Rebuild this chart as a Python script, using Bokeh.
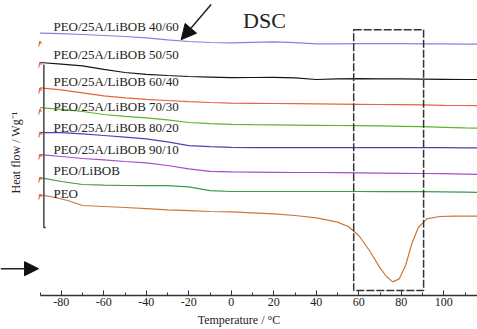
import numpy as np
from bokeh.plotting import figure
from bokeh.models import Range1d, FixedTicker, Arrow, NormalHead
from bokeh.core.properties import value
from bokeh.embed import file_html
from bokeh.resources import INLINE

# ---------------- data ----------------
temp = [-90, -80, -70, -60, -50, -40, -30, -20, -10, 0, 10, 20, 30, 40,
        50, 60, 70, 80, 90, 100, 110, 116]

hf_40_60 = [13.12, 13.09, 13.05, 13.00, 12.95, 12.88, 12.78, 12.70, 12.65, 12.63, 12.66,
            12.68, 12.64, 12.58, 12.58, 12.59, 12.59, 12.59, 12.58, 12.58, 12.57, 12.57]
hf_50_50 = [11.65, 11.57, 11.48, 11.31, 11.15, 11.06, 11.00, 10.95, 10.92, 10.89, 10.90,
            10.91, 10.88, 10.80, 10.83, 10.84, 10.83, 10.83, 10.82, 10.81, 10.80, 10.80]
hf_60_40 = [10.38, 10.28, 10.13, 9.98, 9.88, 9.81, 9.75, 9.69, 9.65, 9.62, 9.61,
            9.60, 9.59, 9.58, 9.57, 9.56, 9.55, 9.54, 9.53, 9.51, 9.50, 9.49]
hf_70_30 = [9.39, 9.31, 9.20, 9.05, 8.96, 8.88, 8.78, 8.65, 8.59, 8.56, 8.54,
            8.53, 8.52, 8.51, 8.50, 8.49, 8.48, 8.46, 8.44, 8.41, 8.38, 8.37]
hf_80_20 = [8.14, 8.14, 8.08, 8.00, 7.92, 7.83, 7.68, 7.49, 7.44, 7.41, 7.39,
            7.39, 7.39, 7.39, 7.39, 7.39, 7.39, 7.39, 7.39, 7.39, 7.38, 7.38]
hf_90_10 = [7.04, 6.95, 6.85, 6.78, 6.70, 6.63, 6.50, 6.33, 6.21, 6.18, 6.17,
            6.16, 6.15, 6.15, 6.14, 6.13, 6.12, 6.11, 6.10, 6.09, 6.07, 6.05]
hf_peo_libob = [5.89, 5.70, 5.55, 5.52, 5.50, 5.49, 5.49, 5.43, 5.24, 5.20, 5.20,
                5.20, 5.20, 5.20, 5.20, 5.20, 5.19, 5.19, 5.19, 5.18, 5.17, 5.16]

temp_peo = [-90, -85, -77, -70, -60, -50, -40, -30, -20, -10, 0, 10, 20, 30, 40, 50,
            55, 60, 65, 70, 73, 76, 79, 82, 85, 88, 92, 98, 105, 116]
hf_peo = [5.03, 4.95, 4.75, 4.50, 4.45, 4.40, 4.34, 4.28, 4.24, 4.20, 4.18, 4.13, 4.08,
          4.00, 3.88, 3.67, 3.45, 3.00, 2.25, 1.38, 0.95, 0.68, 0.83, 1.50, 2.60, 3.40,
          3.83, 3.95, 3.97, 3.97]

series_names = ["PEO/25A/LiBOB 40/60", "PEO/25A/LiBOB 50/50", "PEO/25A/LiBOB 60/40",
                "PEO/25A/LiBOB 70/30", "PEO/25A/LiBOB 80/20", "PEO/25A/LiBOB 90/10",
                "PEO/LiBOB", "PEO"]
series_colors = ["#8383dc", "#151515", "#e8643c", "#5cb52e", "#5a3cb4", "#a64ccc",
                 "#3a9a50", "#c8783c"]
label_hf = [13.45, 12.05, 10.70, 9.45, 8.39, 7.29, 6.25, 5.09]
label_temp = -83.7

hook_hf = [12.60, 11.55, 10.25, 9.20, 8.05, 6.95, 5.80, 4.95]

tick_values = [-80, -60, -40, -20, 0, 20, 40, 60, 80, 100]
tick_labels = ["-80", "-60", "-40", "-20", "0", "20", "40", "60", "80", "100"]
minor_values = [-90, -70, -50, -30, -10, 10, 30, 50, 70, 90, 110]

# melting region box (dashed)
box_left, box_right, box_bottom, box_top = 57.6, 90.5, 0.25, 13.29

FONT = "Liberation Serif"
TXT = "#222222"

p = figure(width=477, height=329, output_backend="svg", toolbar_location=None,
           x_range=Range1d(-108.6, 115.86), y_range=Range1d(0, 14.75),
           y_axis_location=None, min_border_left=0, min_border_right=0,
           min_border_top=0, min_border_bottom=34)
p.outline_line_color = None
p.grid.visible = False
p.background_fill_color = "white"
p.border_fill_color = "white"

all_hf = [hf_40_60, hf_50_50, hf_60_40, hf_70_30, hf_80_20, hf_90_10, hf_peo_libob]
for vals, col in zip(all_hf, series_colors[:7]):
    p.line(temp, vals, line_color=col, line_width=1.2)
p.line(temp_peo, hf_peo, line_color=series_colors[7], line_width=1.2)

# start-up hooks
hx = [[-90.6, -90.1, -89.3] for _ in hook_hf]
hy = [[h - 0.15, h + 0.12, h - 0.02] for h in hook_hf]
p.multi_line(hx, hy, line_color="#e0603a", line_width=1.1)

# vertical heat-flow scale line
p.line([-88.2, -88.2, -87.3], [11.55, 3.40, 3.40], line_color="#444444", line_width=1.5)

# dashed box
p.quad(left=[box_left], right=[box_right], bottom=[box_bottom], top=[box_top],
       fill_color=None, line_color="#333333", line_width=1.5, line_dash="8 2")

# curve labels
p.text(x=[label_temp] * len(series_names), y=label_hf, text=series_names,
       text_font=value(FONT), text_font_size="13px", text_color=TXT,
       text_align="left", text_baseline="middle")

# DSC title
p.text(x=[15.6], y=[13.75], text=["DSC"], text_font=value(FONT), text_font_size="22px",
       text_color=TXT, text_align="center", text_baseline="middle")

# y label
p.text(x=[-101.1], y=[7.15], text=["Heat flow / Wg\u207b\u00b9"], angle=np.pi / 2,
       text_font=value(FONT), text_font_size="12px", text_color=TXT,
       text_align="center", text_baseline="middle")

# arrows
p.add_layout(Arrow(end=NormalHead(size=14, fill_color="#111111", line_color="#111111"),
                   x_start=-108.6, y_start=1.34, x_end=-90.7, y_end=1.34,
                   line_color="#222222", line_width=1.5))
p.add_layout(Arrow(end=NormalHead(size=15, fill_color="#111111", line_color="#111111"),
                   x_start=-9.5, y_start=14.55, x_end=-23.6, y_end=12.79,
                   line_color="#222222", line_width=1.5))

# x axis
ax = p.xaxis[0]
ax.ticker = FixedTicker(ticks=tick_values, minor_ticks=minor_values)
ax.major_label_overrides = {v: l for v, l in zip(tick_values, tick_labels)}
ax.bounds = (-90, 116)
ax.axis_line_color = "#333333"
ax.axis_line_width = 1.3
ax.major_tick_line_color = "#333333"
ax.minor_tick_line_color = "#333333"
ax.major_tick_in = 5
ax.major_tick_out = 0
ax.minor_tick_in = 3
ax.minor_tick_out = 0
ax.major_label_standoff = 2
ax.major_label_text_font = FONT
ax.major_label_text_font_size = "12px"
ax.major_label_text_color = TXT
ax.axis_label = "Temperature / \u00b0C"
ax.axis_label_standoff = 4
ax.axis_label_text_font = FONT
ax.axis_label_text_font_size = "12px"
ax.axis_label_text_font_style = "normal"
ax.axis_label_text_color = TXT

open("out.html", "w").write(file_html(p, INLINE))
